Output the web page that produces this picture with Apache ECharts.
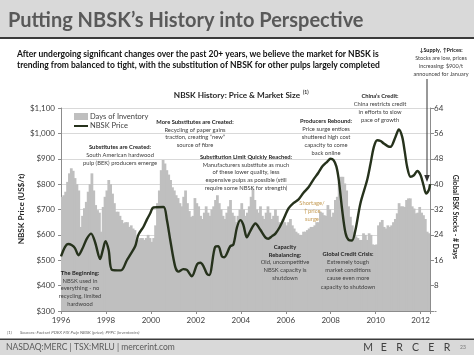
<!DOCTYPE html>
<html><head><meta charset="utf-8">
<script src="https://cdn.jsdelivr.net/npm/echarts@6/dist/echarts.min.js"></script>
<style>html,body{margin:0;padding:0;background:#fff}#c{width:474px;height:355px}</style>
</head><body><div id="c"></div>
<script>
// ---- data ----
const months = [];
for (let y = 1996; y <= 2012; y++) for (let m = 1; m <= 12; m++) if (months.length < 197) months.push(y + '-' + String(m).padStart(2, '0'));

const inventoryDays = [
  36, 36.5, 37.6, 40.7, 43.4, 45, 44.2, 41.9, 40, 38, 26.5, 30,
  32.4, 34.4, 37.6, 40, 43.4, 38, 33.4, 31.8, 31, 25, 32.8, 36,
  38, 41.3, 40, 37, 34, 31.3, 31.3, 30, 28.7, 27.7, 28, 28,
  26.5, 27, 26, 25.5, 22.4, 22.5, 23, 23, 22.4, 23, 24, 23,
  21.8, 23, 27, 34, 38, 44.4, 47.6, 46.5, 44.4, 43, 41.3, 39,
  38, 36.5, 35.6, 34, 33, 36, 38, 34, 31.5, 29.7, 30, 35.6,
  34, 33, 30, 29, 31, 33, 31, 30, 32, 33, 35, 36.5,
  34, 32, 30, 29, 31, 33, 35, 31, 30, 28, 30, 32,
  34, 32, 30, 31, 33, 36, 38.5, 35, 32, 31, 33, 30,
  29, 31, 33, 31, 29, 30, 32, 30, 28, 27, 29, 28,
  27, 28, 29, 27, 26, 25, 24.5, 24, 24, 25, 25, 25.5,
  26, 26.5, 26.5, 27, 28, 28, 31.3, 31, 30.2, 30, 33.4, 32,
  29.7, 31, 35, 36, 40.7, 42.3, 42.3, 40.2, 38, 33, 29.7, 27,
  25, 23.5, 23, 22.4, 22.4, 24.5, 24, 22.4, 24.5, 24, 21, 20.8,
  21, 27, 28, 28.7, 26.5, 26, 27, 26.5, 27, 28, 29, 30.8,
  34, 33, 33, 32.8, 35, 35.5, 35.5, 33, 32.3, 30.8, 31, 32.8,
  31, 30.2, 29, 25, 24.5
];

const priceYear = [1996.00,1996.18,1996.32,1996.47,1996.62,1996.78,1996.95,
  1997.15,1997.34,1997.52,1997.74,1997.86,1997.98,
  1998.12,1998.27,1998.67,1998.93,
  1999.07,1999.3,1999.44,1999.67,1999.82,1999.97,
  2000.11,2000.56,2000.71,2000.86,
  2001.08,2001.23,2001.44,2001.6,2001.82,
  2002.06,2002.2,2002.33,2002.5,2002.6,2002.86,
  2003.0,2003.16,2003.26,2003.53,2003.67,2003.83,2003.98,
  2004.11,2004.27,2004.42,2004.65,2004.87,
  2005.09,2005.22,2005.39,2005.54,2005.74,2005.89,
  2006.13,2006.34,2006.57,2006.78,
  2007.02,2007.23,2007.45,2007.63,2007.84,2007.99,
  2008.12,2008.25,2008.36,2008.51,2008.66,2008.8,2008.95,
  2009.1,2009.32,2009.62,2009.77,2009.92,
  2010.07,2010.22,2010.36,2010.53,2010.66,2010.88,
  2011.03,2011.18,2011.29,2011.4,2011.55,2011.7,2011.85,
  2012.0,2012.13,2012.24,2012.36,2012.42];
const priceUSD = [515,553,564,560,548,520,545,
  585,605,570,505,540,575,
  540,462,460,500,
  520,555,600,632,660,685,
  708,710,660,580,
  475,455,465,462,437,
  485,490,478,445,442,553,
  555,515,512,555,562,630,658,
  640,590,615,645,620,
  590,585,595,605,632,660,
  705,725,740,765,
  789,818,845,870,888,900,
  895,870,816,698,606,580,578,
  619,724,816,880,947,
  973,970,960,950,947,986,
  1015,986,930,868,829,835,852,
  835,795,763,776,800];

const seriesNames = ['Days of Inventory', 'NBSK Price'];

// ---- helpers ----
const FONT = 'Lato';
function T(x, y, text, o) {
  o = o || {};
  const al = o.align || 'center';
  return {type: 'text', x: x, y: y, z: o.z || 50, rotation: o.rot || 0, silent: true,
    style: {text: text, fill: o.color || '#404040', fontSize: o.size || 6,
      fontWeight: o.bold ? 'bold' : 'normal', fontStyle: o.italic ? 'italic' : 'normal',
      fontFamily: o.font || FONT, align: al, verticalAlign: 'middle', textAlign: al, textVerticalAlign: 'middle'}};
}
function block(x, y0, lh, lines, nBold, color) {
  return lines.map((s, i) => T(x, y0 + i * lh, s, {bold: i < nBold, color: color || (i < nBold ? '#1f1f1f' : '#404040'), size: 5.8}));
}

const els = [];
// title bar
els.push({type: 'rect', shape: {x: 0, y: 0, width: 474, height: 37}, style: {fill: '#d9d9d9'}, z: 1});
els.push({type: 'rect', shape: {x: 0, y: 37, width: 474, height: 2}, style: {fill: '#3a3a3a'}, z: 1});
els.push(T(8, 21, 'Putting NBSK\u2019s History into Perspective', {align: 'left', size: 20, bold: true, color: '#595959'}));
// subtitle
els.push(T(17, 54, 'After undergoing significant changes over the past 20+ years, we believe the market for NBSK is', {align: 'left', size: 8.5, bold: true, color: '#111'}));
els.push(T(17, 65, 'trending from balanced to tight, with the substitution of NBSK for other pulps largely completed', {align: 'left', size: 8.5, bold: true, color: '#111'}));
// callout
els.push(T(441, 50, '\u2193Supply, \u2191Prices:', {size: 5.5, bold: true, color: '#222'}));
els.push(T(441, 58, 'Stocks are low, prices', {size: 5.5, color: '#404040'}));
els.push(T(441, 66, 'increasing: $900/t', {size: 5.5, color: '#404040'}));
els.push(T(441, 74, 'announced for January', {size: 5.5, color: '#404040'}));
els.push({type: 'line', shape: {x1: 427, y1: 79, x2: 427, y2: 176}, style: {stroke: '#333', lineWidth: 1}, z: 60});
els.push({type: 'polygon', shape: {points: [[424.2, 175], [429.8, 175], [427, 182]]}, style: {fill: '#333'}, z: 60});
// chart title
els.push(T(302, 95, 'NBSK History: Price & Market Size ', {align: 'right', size: 8.2, bold: true, color: '#262626'}));
els.push(T(303, 92.5, '(1)', {align: 'left', size: 5, bold: true, color: '#262626'}));
// axis titles
els.push(T(21, 209, 'NBSK Price (US$/t)', {rot: Math.PI / 2, size: 8.2, bold: true, color: '#262626'}));
els.push(T(455, 217, 'Global BSK Stocks - # Days', {rot: -Math.PI / 2, size: 7, bold: true, color: '#262626'}));
// annotations
els.push(...block(80, 273, 7.8, ['The Beginning:', 'NBSK used in', 'everything - no', 'recycling, limited', 'hardwood'], 1));
els.push(...block(120, 147, 8, ['Substitutes are Created:', 'South American hardwood', 'pulp (BEK) producers emerge'], 1));
els.push(...block(195, 122, 7.7, ['More Substitutes are Created:', 'Recycling of paper gains', 'traction, creating \u201cnew\u201d', 'source of fibre'], 1));
els.push(...block(246, 157, 7.8, ['Substitution Limit Quickly Reached:', 'Manufacturers substitute as much', 'of these lower quality, less', 'expensive pulps as possible (still', 'require some NBSK for strength)'], 1));
els.push(...block(326, 121, 8, ['Producers Rebound:', 'Price surge entices', 'shuttered high cost', 'capacity to come', 'back online'], 1));
els.push(...block(380, 96, 8, ['China\u2019s Credit:', 'China restricts credit', 'in efforts to slow', 'pace of growth'], 1));
els.push(...block(312, 203, 8, ['Shortage/', '\u2191price', 'surge'], 0, '#c49a52'));
els.push(...block(285, 247, 7.8, ['Capacity', 'Rebalancing:', 'Old, uncompetitive', 'NBSK capacity is', 'shutdown'], 2));
els.push(...block(348, 254, 8.2, ['Global Credit Crisis:', 'Extremely tough', 'market conditions', 'cause even more', 'capacity to shutdown'], 1));
// footnote
els.push(T(7, 332.5, '(1)', {align: 'left', size: 4.5, italic: true, color: '#666'}));
els.push(T(20, 332.5, 'Sources: Factset PDEX FIX Pulp NBSK (price); PPPC (inventories)', {align: 'left', size: 4.5, italic: true, color: '#666'}));
// footer
els.push({type: 'rect', shape: {x: 0, y: 338.5, width: 474, height: 1.6}, style: {fill: '#3c3c3c'}, z: 1});
els.push({type: 'rect', shape: {x: 0, y: 340, width: 474, height: 15}, style: {fill: '#d9d9d9'}, z: 1});
els.push(T(6, 347.5, 'NASDAQ:MERC | TSX:MRLU | mercerint.com', {align: 'left', size: 8.5, color: '#595959'}));
'MERCER'.split('').forEach((ch, i) => els.push(T(368 + i * 15.8, 347.5, ch, {size: 10.5, color: '#404040'})));
els.push(T(463, 347.5, '23', {size: 5, color: '#777'}));

const axisColor = '#8c8c8c';
const lblColor = '#404040';
const barGray = '#bfbfbf';
const lineDark = '#26321c';

// columns drawn edge-to-edge (slight overlap avoids anti-aliasing seams)
function renderColumn(params, api) {
  const idx = api.value(0);
  const v = api.value(1);
  const top = api.coord([idx, v]);
  const base = api.coord([idx, 0]);
  const w = api.size([1, 0])[0];
  return {type: 'rect', shape: {x: top[0] - w / 2 - 0.45, y: top[1], width: w + 0.9, height: base[1] - top[1]},
    style: {fill: barGray}};
}

const chart = echarts.init(document.getElementById('c'), null, {renderer: 'canvas'});
chart.setOption({
  animation: false,
  backgroundColor: '#fff',
  textStyle: {fontFamily: FONT},
  grid: {left: 61, right: 44, top: 108, bottom: 44, containLabel: false},
  legend: {
    data: [
      {name: seriesNames[0], icon: 'rect', itemStyle: {color: barGray, borderWidth: 0}},
      {name: seriesNames[1], itemStyle: {opacity: 0, borderWidth: 0}, lineStyle: {color: lineDark, width: 2}}
    ],
    orient: 'vertical', left: 73, top: 112.5, itemWidth: 14, itemHeight: 7, itemGap: 1.5, padding: 0,
    textStyle: {fontSize: 7.5, color: lblColor, fontFamily: FONT, padding: [0, 0, 0, -3]}
  },
  xAxis: [
    {type: 'category', data: months, show: false, boundaryGap: true},
    {type: 'value', min: 1996, max: 1996 + 197 / 12, interval: 2, position: 'bottom',
      axisLine: {show: true, lineStyle: {color: axisColor}},
      axisTick: {show: true, length: 3, lineStyle: {color: axisColor}},
      axisLabel: {formatter: v => Number.isInteger(v) ? String(v) : '', margin: 5, fontSize: 8, color: lblColor, fontFamily: FONT},
      splitLine: {show: false}}
  ],
  yAxis: [
    {type: 'value', min: 300, max: 1100, interval: 100, position: 'left',
      axisLine: {show: true, lineStyle: {color: axisColor}},
      axisTick: {show: true, length: 3, lineStyle: {color: axisColor}},
      axisLabel: {formatter: v => '$' + v.toLocaleString('en-US'), margin: 6, fontSize: 8, color: lblColor, fontFamily: FONT},
      splitLine: {show: true, lineStyle: {color: '#d9d9d9', width: 1}}},
    {type: 'value', min: 0, max: 64, interval: 8, position: 'right',
      axisLine: {show: true, lineStyle: {color: axisColor}},
      axisTick: {show: true, length: 4, lineStyle: {color: axisColor}},
      axisLabel: {formatter: v => v === 0 ? '-' : String(v), margin: 4, fontSize: 8, color: lblColor, fontFamily: FONT},
      splitLine: {show: false}}
  ],
  series: [
    {name: seriesNames[0], type: 'custom', xAxisIndex: 0, yAxisIndex: 1,
      data: inventoryDays.map((v, i) => [i, v]), encode: {x: 0, y: 1},
      renderItem: renderColumn, itemStyle: {color: barGray}, silent: true, z: 1, clip: true},
    {name: seriesNames[1], type: 'line', xAxisIndex: 1, yAxisIndex: 0,
      data: priceYear.map((y, i) => [y, priceUSD[i]]),
      smooth: 0.3, symbol: 'none', lineStyle: {color: lineDark, width: 2.4}, itemStyle: {color: lineDark}, z: 3}
  ],
  graphic: {elements: els}
});
</script></body></html>
